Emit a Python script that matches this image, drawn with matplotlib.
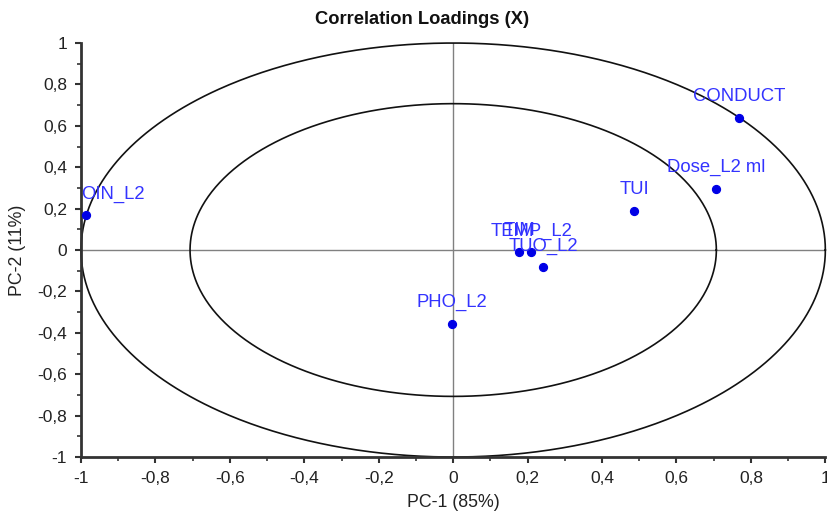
import numpy as np
import matplotlib
matplotlib.use("Agg")
import matplotlib.pyplot as plt
from matplotlib.ticker import MultipleLocator, FixedLocator

plt.rcParams['font.family'] = ['Liberation Sans', 'DejaVu Sans']

# Correlation loadings of the X variables on the first two components
variables = ["CONDUCT", "Dose_L2 ml", "TUI", "TIM", "TEMP_L2", "TUO_L2", "PHO_L2", "OIN_L2"]
pc1 = [0.769, 0.707, 0.487, 0.177, 0.210, 0.241, -0.003, -0.988]
pc2 = [0.638, 0.295, 0.188, -0.010, -0.010, -0.082, -0.357, 0.169]

tick_values = [-1, -0.8, -0.6, -0.4, -0.2, 0, 0.2, 0.4, 0.6, 0.8, 1]
tick_labels = ["-1", "-0,8", "-0,6", "-0,4", "-0,2", "0", "0,2", "0,4", "0,6", "0,8", "1"]

# explained-variance circles: 100% and 50%
circle_radii = [1.0, np.sqrt(0.5)]

fig = plt.figure(figsize=(8.27, 5.16), dpi=100)
ax = fig.add_axes([0.098, 0.1143, 0.9, 0.8023])
ax.set_xlim(-1, 1)
ax.set_ylim(-1, 1)

theta = np.linspace(0, 2 * np.pi, 721)
for r in circle_radii:
    ax.plot(r * np.cos(theta), r * np.sin(theta), color="#111111", lw=1.2, zorder=2, clip_on=False)

ax.axhline(0, color="#808080", lw=1.0, zorder=1)
ax.axvline(0, color="#808080", lw=1.0, zorder=1)

ax.scatter(pc1, pc2, s=32, color="#0000e6", zorder=4, clip_on=False)

for name, x, y in zip(variables, pc1, pc2):
    if name == "OIN_L2":
        ax.annotate(name, (x, y), xytext=(-3, 12), textcoords="offset points",
                    ha="left", va="baseline", color="#3333ff", fontsize=13.3, zorder=5)
    else:
        ax.annotate(name, (x, y), xytext=(0, 12), textcoords="offset points",
                    ha="center", va="baseline", color="#3333ff", fontsize=13.3, zorder=5)

for side in ("top", "right"):
    ax.spines[side].set_visible(False)
for side in ("left", "bottom"):
    ax.spines[side].set_linewidth(2.0)
    ax.spines[side].set_color("#333333")

ax.xaxis.set_major_locator(FixedLocator(tick_values))
ax.yaxis.set_major_locator(FixedLocator(tick_values))
ax.set_xticklabels(tick_labels)
ax.set_yticklabels(tick_labels)
ax.xaxis.set_minor_locator(MultipleLocator(0.1))
ax.yaxis.set_minor_locator(MultipleLocator(0.1))
ax.tick_params(which="major", direction="out", length=4, width=1.5, color="#333333",
               labelsize=12.5, labelcolor="#222222", pad=6)
ax.tick_params(which="minor", direction="out", length=3, width=1.2, color="#333333")

ax.set_xlabel("PC-1 (85%)", fontsize=12.8, color="#222222", labelpad=6)
ax.set_ylabel("PC-2 (11%)", fontsize=12.8, color="#222222", labelpad=8)
fig.text(0.51, 0.963, "Correlation Loadings (X)", fontsize=13.2, fontweight="bold",
         color="#111111", ha="center", va="center")

fig.savefig("out.png", dpi=100)
